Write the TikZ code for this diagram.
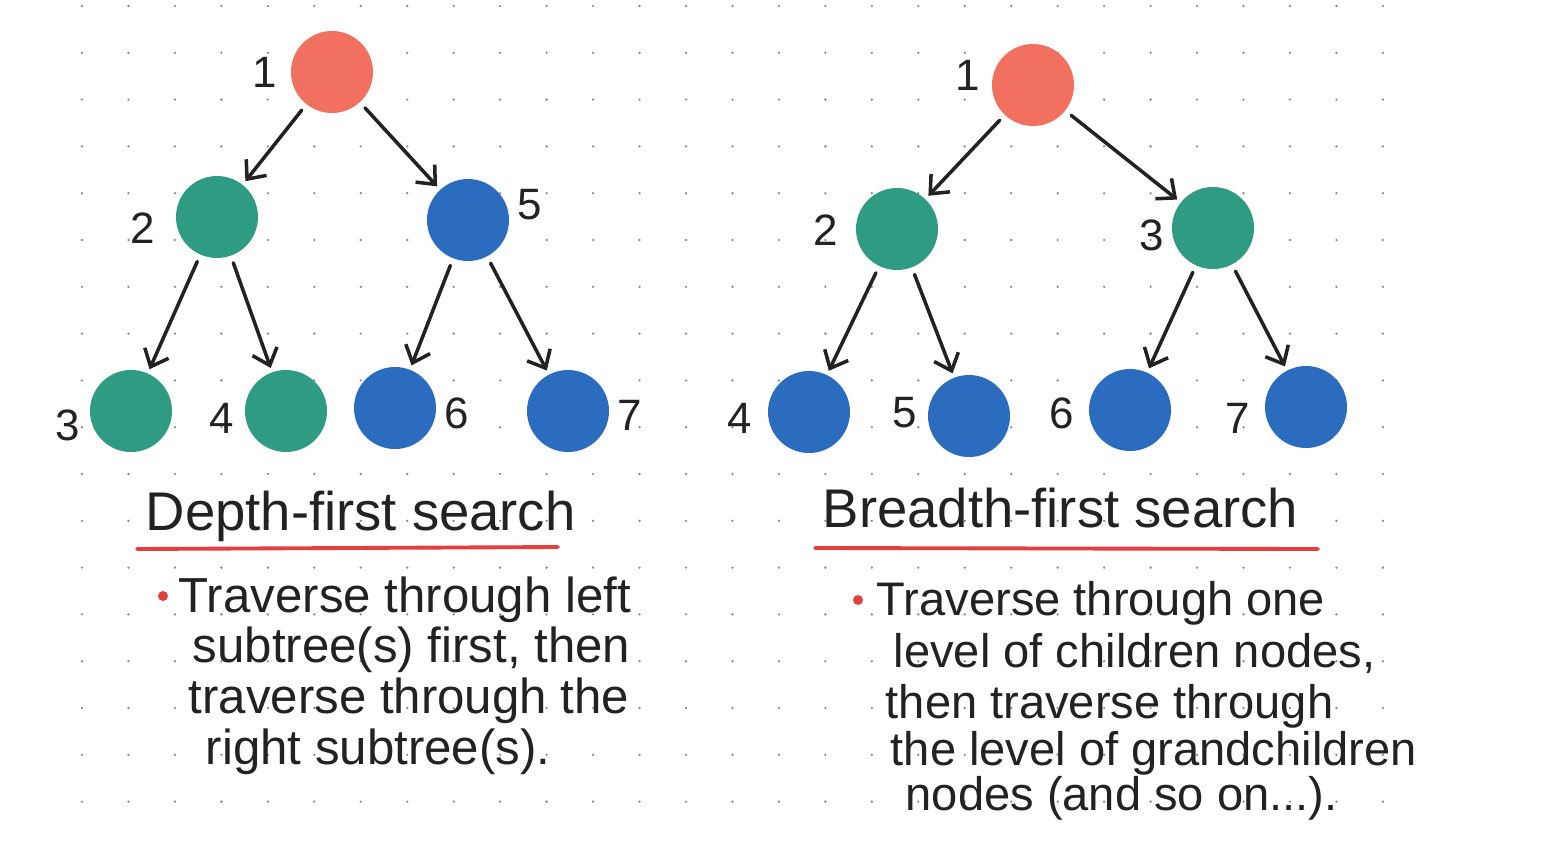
\documentclass[tikz,border=0pt]{standalone}
\usepackage{fontspec}
\setmainfont{Liberation Sans}
\usetikzlibrary{arrows.meta}
\definecolor{rootred}{HTML}{F2705F}
\definecolor{leafgreen}{HTML}{2E9B82}
\definecolor{leafblue}{HTML}{2C6CBF}
\definecolor{penred}{HTML}{E53E3E}
\definecolor{inkblack}{HTML}{222222}
\definecolor{dotgray}{HTML}{8C8C8C}

\begin{document}
\begin{tikzpicture}[x=0.1mm, y=-0.1mm,
        vertex/.style={circle, minimum size=8.2mm, inner sep=0pt},
        num/.style={text=inkblack, font=\fontsize{12.5}{12.5}\selectfont},
        link/.style={draw=inkblack, line width=1pt, line cap=round,
            -{Straight Barb[length=1.5mm, width=2.6mm, line width=1pt]},
            shorten <=0.7mm, shorten >=0.4mm},
        heading/.style={anchor=base west, inner sep=0pt, text=inkblack, font=\fontsize{15.5}{15.5}\selectfont},
        note/.style={anchor=base west, inner sep=0pt, text=inkblack, font=\fontsize{14}{14}\selectfont},
        rnote/.style={note, font=\fontsize{13.4}{13.4}\selectfont}
    ]
      \useasboundingbox (0,0) rectangle (1550,842);
      \fill[white] (0,0) rectangle (1550,842);

      % Dot grid
      \foreach \i in {0,...,28}
        \foreach \j in {0,...,17}
          \fill[dotgray] (82+46.46*\i, 6+46.8*\j) circle (0.13mm);

      % Depth-first tree
      \node[vertex, fill=rootred] (d1) at (332,72) {};
      \node[vertex, fill=leafgreen] (d2) at (217,217) {};
      \node[vertex, fill=leafblue] (d5) at (468,220) {};
      \node[vertex, fill=leafgreen] (d3) at (131,411) {};
      \node[vertex, fill=leafgreen] (d4) at (286,411) {};
      \node[vertex, fill=leafblue] (d6) at (395,408) {};
      \node[vertex, fill=leafblue] (d7) at (568,411) {};

      \node[num] (d1n) at (265,72) {1};
      \node[num] (d2n) at (143,228) {2};
      \node[num] (d5n) at (530,205) {5};
      \node[num] (d3n) at (68,425) {3};
      \node[num] (d4n) at (222,418) {4};
      \node[num] (d6n) at (457,413) {6};
      \node[num] (d7n) at (630,415) {7};

      \draw[link] (d1) -- (d2);
      \draw[link] (d1) -- (d5);
      \draw[link] (d2) -- (d3);
      \draw[link] (d2) -- (d4);
      \draw[link] (d5) -- (d6);
      \draw[link] (d5) -- (d7);

      % Breadth-first tree
      \node[vertex, fill=rootred] (b1) at (1033,85) {};
      \node[vertex, fill=leafgreen] (b2) at (897,229) {};
      \node[vertex, fill=leafgreen] (b3) at (1213,228) {};
      \node[vertex, fill=leafblue] (b4) at (809,412) {};
      \node[vertex, fill=leafblue] (b5) at (969,416) {};
      \node[vertex, fill=leafblue] (b6) at (1130,410) {};
      \node[vertex, fill=leafblue] (b7) at (1306,407) {};

      \node[num] (b1n) at (968,75) {1};
      \node[num] (b2n) at (826,230) {2};
      \node[num] (b3n) at (1152,235) {3};
      \node[num] (b4n) at (740,418) {4};
      \node[num] (b5n) at (905,413) {5};
      \node[num] (b6n) at (1062,413) {6};
      \node[num] (b7n) at (1238,418) {7};

      \draw[link] (b1) -- (b2);
      \draw[link] (b1) -- (b3);
      \draw[link] (b2) -- (b4);
      \draw[link] (b2) -- (b5);
      \draw[link] (b3) -- (b6);
      \draw[link] (b3) -- (b7);

      % Depth-first notes
      \node[heading] (dtitle) at (145,530) {Depth-first search};
      \draw[penred, line width=1.1pt, line cap=round] (137,549) -- (558,547);
      \fill[penred] (163,596) circle (0.5mm);
      \node[note] (dl1) at (178,612) {Traverse through left};
      \node[note] (dl2) at (192,662) {subtree(s) first, then};
      \node[note] (dl3) at (188,713) {traverse through the};
      \node[note] (dl4) at (205,764) {right subtree(s).};

      % Breadth-first notes
      \node[heading] (btitle) at (822,527) {Breadth-first search};
      \draw[penred, line width=1.1pt, line cap=round] (815,548) -- (1318,549);
      \fill[penred] (858,600) circle (0.5mm);
      \node[rnote] (bl1) at (876,615) {Traverse through one};
      \node[rnote] (bl2) at (893,667) {level of children nodes,};
      \node[rnote] (bl3) at (885,718) {then traverse through};
      \node[rnote] (bl4) at (890,765) {the level of grandchildren};
      \node[rnote] (bl5) at (905,810) {nodes (and so on...).};
    \end{tikzpicture}
\end{document}
